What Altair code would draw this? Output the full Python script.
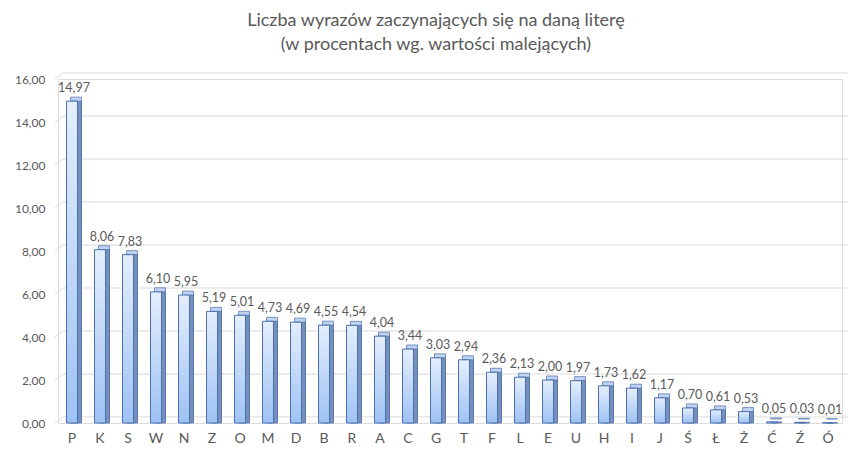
import altair as alt
import pandas as pd

letters = ["P", "K", "S", "W", "N", "Z", "O", "M", "D", "B", "R", "A", "C", "G",
           "T", "F", "L", "E", "U", "H", "I", "J", "Ś", "Ł", "Ż", "Ć", "Ź", "Ó"]
values = [14.97, 8.06, 7.83, 6.10, 5.95, 5.19, 5.01, 4.73, 4.69, 4.55, 4.54, 4.04,
          3.44, 3.03, 2.94, 2.36, 2.13, 2.00, 1.97, 1.73, 1.62, 1.17, 0.70, 0.61,
          0.53, 0.05, 0.03, 0.01]
y_ticks = [0, 2, 4, 6, 8, 10, 12, 14, 16]

df = pd.DataFrame({"litera": letters, "wartosc": values})
grid_df = pd.DataFrame({"wartosc": y_ticks})

FONT = "Lato"
GREY = "#595959"

xenc = alt.X("litera:N", sort=letters, title=None,
             scale=alt.Scale(paddingInner=0, paddingOuter=0),
             axis=alt.Axis(labelAngle=0, domain=False, ticks=False, labelPadding=8,
                           labelFontSize=14, labelColor=GREY, labelFont=FONT))
yscale = alt.Scale(domain=[0, 16], nice=False, zero=True)
yaxis = alt.Axis(values=y_ticks, grid=False, domain=False, ticks=False,
                 labelPadding=13, labelFontSize=12, labelColor=GREY,
                 labelFont=FONT,
                 labelExpr="replace(format(datum.value, '.2f'), '.', ',')")
yenc = alt.Y("wartosc:Q", scale=yscale, title=None, axis=yaxis)

grid = alt.Chart(grid_df).mark_rule(color="#d9d9d9", strokeWidth=1, yOffset=-6).encode(
    y=yenc, x=alt.value(5), x2=alt.value(790))
diag = alt.Chart(grid_df).mark_rule(color="#d9d9d9", strokeWidth=1, y2Offset=-6).encode(
    y=yenc, y2="wartosc:Q", x=alt.value(-3), x2=alt.value(5))

top_face = alt.Chart(df).mark_bar(size=11, xOffset=4, yOffset=-4, y2Offset=-4,
                                  color="#c0d3f0", stroke="#5a7cb3", strokeWidth=0.8).encode(
    x=xenc, y=yenc)
side_face = alt.Chart(df).mark_bar(size=11, xOffset=4, yOffset=0,
                                   color="#7690bd", stroke="#4f6fa6", strokeWidth=0.8).encode(
    x=xenc, y=yenc)
front = alt.Chart(df).mark_bar(
    size=11, stroke="#4a70b0", strokeWidth=1,
    color=alt.Gradient(gradient="linear", x1=0, y1=0, x2=0, y2=1,
                       stops=[alt.GradientStop(color="#e4eefc", offset=0),
                              alt.GradientStop(color="#9ec2f4", offset=1)])
).encode(x=xenc, y=yenc)

labels = alt.Chart(df).transform_calculate(
    lab="replace(format(datum.wartosc, '.2f'), '.', ',')"
).mark_text(baseline="bottom", dy=-6, dx=2, fontSize=12.5, color=GREY, font=FONT).encode(
    x=xenc, y=yenc, text="lab:N")

chart = alt.layer(grid, diag, top_face, side_face, front, labels).properties(
    width=784, height=344,
    autosize=alt.AutoSizeParams(type="none"),
    padding={"left": 50, "top": 71, "right": 16, "bottom": 24},
    title=alt.TitleParams(
        text=["Liczba wyrazów zaczynających się na daną literę",
              "(w procentach wg. wartości malejących)"],
        anchor="middle", frame="group", dx=-14, offset=1, fontSize=18,
        fontWeight="normal", color=GREY, font=FONT, lineHeight=24,
        baseline="bottom")
).configure_view(stroke=None).configure(background="white")

chart.save("out.html", embed_options={"renderer": "svg", "actions": False})
